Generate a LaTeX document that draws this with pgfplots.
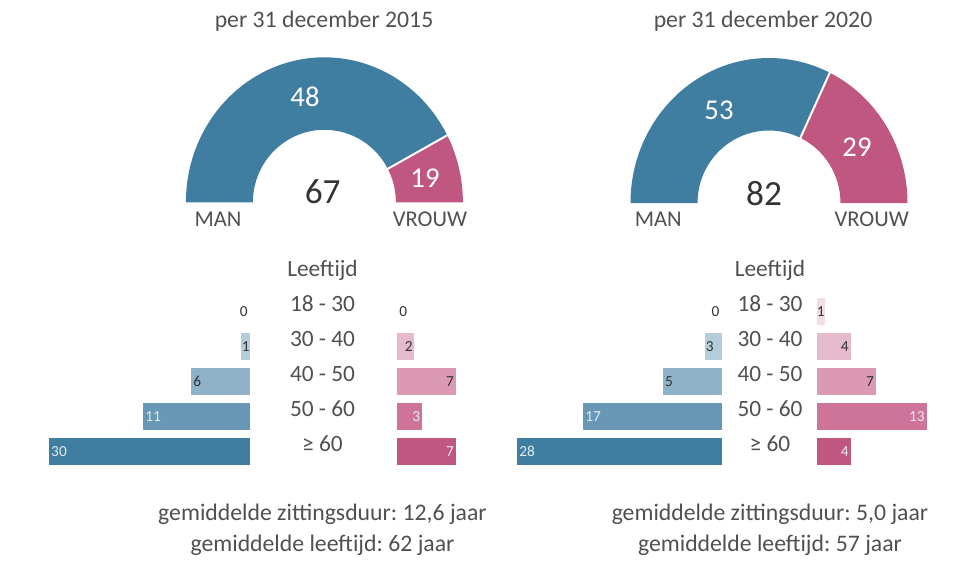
\documentclass[border=0pt]{standalone}
\usepackage{pgfplots}
\pgfplotsset{compat=1.18}
\usepackage{fontspec}
\setmainfont{Carlito}
\frenchspacing
\definecolor{manblue}{HTML}{3F7EA1}
\definecolor{m4}{HTML}{6898B5}
\definecolor{m3}{HTML}{8FB2C8}
\definecolor{m2}{HTML}{B4CDDB}
\definecolor{w5}{HTML}{C05780}
\definecolor{w4}{HTML}{CE7499}
\definecolor{w3}{HTML}{DB99B4}
\definecolor{w2}{HTML}{E6BACD}
\definecolor{w1}{HTML}{F2DCE6}
\definecolor{txt}{HTML}{505050}
\definecolor{dark}{HTML}{333333}
\definecolor{lightlbl}{HTML}{E4ECF1}
\pgfplotsset{
  barax/.style={anchor=origin, x=6.3375pt, y=26.25pt, y dir=reverse,
    xmin=0, xmax=26, ymin=-0.5, ymax=4.5, hide axis, clip=false,
    every axis plot/.append style={xbar, bar width=0.7714, bar shift=0pt, draw=none}},
}
\tikzset{lbl/.style={font=\fontsize{11.5}{13}\selectfont, inner sep=1.5pt}}
\begin{document}
\begin{tikzpicture}
\path[use as bounding box] (0,0) rectangle (726pt,-421.5pt);
% ---------- canvas axis: donuts and texts ----------
\begin{axis}[at={(0,0)}, anchor=origin, x=0.75pt, y=0.75pt, y dir=reverse,
  xmin=0, xmax=968, ymin=0, ymax=562, hide axis, clip=false]
% donut 2015 (MAN 48, VROUW 19)
\fill[manblue] (axis cs:185.9,202.3) arc[start angle=180,end angle=27.5,x radius=103.875pt,y radius=108.75pt]
  -- (axis cs:387.8,168.8) arc[start angle=27.5,end angle=180,x radius=53.625pt,y radius=54.375pt] -- cycle;
\fill[w5] (axis cs:462.9,202.3) arc[start angle=0,end angle=27.5,x radius=103.875pt,y radius=108.75pt]
  -- (axis cs:387.8,168.8) arc[start angle=27.5,end angle=0,x radius=53.625pt,y radius=54.375pt] -- cycle;
\draw[white, line width=1.5pt] (axis cs:386,169.8) -- (axis cs:449,134.3);
% donut 2020 (MAN 53, VROUW 29)
\fill[manblue] (axis cs:630.5,203) arc[start angle=180,end angle=64,x radius=103.875pt,y radius=108.75pt]
  -- (axis cs:800.35,137.84) arc[start angle=64,end angle=180,x radius=53.625pt,y radius=54.375pt] -- cycle;
\fill[w5] (axis cs:907.5,203) arc[start angle=0,end angle=64,x radius=103.875pt,y radius=108.75pt]
  -- (axis cs:800.35,137.84) arc[start angle=64,end angle=0,x radius=53.625pt,y radius=54.375pt] -- cycle;
\draw[white, line width=1.5pt] (axis cs:799.5,139.8) -- (axis cs:830.6,70.8);
% titles
\node[anchor=base, text=txt, font=\fontsize{17.8}{20}\selectfont] at (axis cs:324,27) {per 31 december 2015};
\node[anchor=base, text=txt, font=\fontsize{17.8}{20}\selectfont] at (axis cs:763,27) {per 31 december 2020};
% donut numbers
\node[anchor=base, text=white, font=\fontsize{21.5}{24}\selectfont] at (axis cs:305,106.7) {48};
\node[anchor=base, text=white, font=\fontsize{21.5}{24}\selectfont] at (axis cs:425,187.7) {19};
\node[anchor=base, text=dark, font=\fontsize{26.5}{30}\selectfont] at (axis cs:322.7,203.3) {67};
\node[anchor=base, text=white, font=\fontsize{21.5}{24}\selectfont] at (axis cs:719,119) {53};
\node[anchor=base, text=white, font=\fontsize{21.5}{24}\selectfont] at (axis cs:857,156) {29};
\node[anchor=base, text=dark, font=\fontsize{26.5}{30}\selectfont] at (axis cs:764,205.7) {82};
\node[anchor=base, text=txt, font=\fontsize{16.9}{20}\selectfont] at (axis cs:218,226.7) {MAN};
\node[anchor=base, text=txt, font=\fontsize{16.9}{20}\selectfont] at (axis cs:430,226.7) {VROUW};
\node[anchor=base, text=txt, font=\fontsize{16.9}{20}\selectfont] at (axis cs:658.3,226.7) {MAN};
\node[anchor=base, text=txt, font=\fontsize{16.9}{20}\selectfont] at (axis cs:871.7,226.7) {VROUW};
% age labels
\pgfplotsinvokeforeach{322.5,770}{
  \node[anchor=base, text=txt, font=\fontsize{17.5}{20}\selectfont] at (axis cs:#1,276.7) {Leeftijd};
  \node[anchor=base, text=txt, font=\fontsize{17.5}{20}\selectfont] at (axis cs:#1,311.7) {18 - 30};
  \node[anchor=base, text=txt, font=\fontsize{17.5}{20}\selectfont] at (axis cs:#1,346.7) {30 - 40};
  \node[anchor=base, text=txt, font=\fontsize{17.5}{20}\selectfont] at (axis cs:#1,381.7) {40 - 50};
  \node[anchor=base, text=txt, font=\fontsize{17.5}{20}\selectfont] at (axis cs:#1,416.7) {50 - 60};
  \node[anchor=base, text=txt, font=\fontsize{17.5}{20}\selectfont] at (axis cs:#1,451.2) {≥ 60};
}
% bottom texts
\node[anchor=base, text=txt, font=\fontsize{17.8}{20}\selectfont] at (axis cs:322.5,520) {gemiddelde zittingsduur: 12,6 jaar};
\node[anchor=base, text=txt, font=\fontsize{17.8}{20}\selectfont] at (axis cs:322.5,551.7) {gemiddelde leeftijd: 62 jaar};
\node[anchor=base, text=txt, font=\fontsize{17.8}{20}\selectfont] at (axis cs:770,520) {gemiddelde zittingsduur: 5,0 jaar};
\node[anchor=base, text=txt, font=\fontsize{17.8}{20}\selectfont] at (axis cs:770,551.7) {gemiddelde leeftijd: 57 jaar};
\end{axis}
% ---------- MAN 2015 ----------
\begin{axis}[barax, x dir=reverse, at={(187.5pt,-233.775pt)}]
\addplot[fill=m2] coordinates {(1.07,1)};
\addplot[fill=m3] coordinates {(6.98,2)};
\addplot[fill=m4] coordinates {(12.66,3)};
\addplot[fill=manblue] coordinates {(23.79,4)};
\node[lbl, anchor=east, text=dark] at (axis cs:0,0) {0};
\node[lbl, anchor=west, inner sep=0.5pt, text=dark] at (axis cs:1.07,1) {1};
\node[lbl, anchor=west, text=dark] at (axis cs:6.98,2) {6};
\node[lbl, anchor=west, text=lightlbl] at (axis cs:12.66,3) {11};
\node[lbl, anchor=west, text=lightlbl] at (axis cs:23.79,4) {30};
\end{axis}
% ---------- VROUW 2015 ----------
\begin{axis}[barax, at={(297.75pt,-233.775pt)}]
\addplot[fill=w2] coordinates {(2,1)};
\addplot[fill=w3] coordinates {(7,2)};
\addplot[fill=w4] coordinates {(3,3)};
\addplot[fill=w5] coordinates {(7,4)};
\node[lbl, anchor=west, text=dark] at (axis cs:0,0) {0};
\node[lbl, anchor=east, inner sep=0.8pt, text=dark] at (axis cs:2,1) {2};
\node[lbl, anchor=east, text=dark] at (axis cs:7,2) {7};
\node[lbl, anchor=east, text=lightlbl] at (axis cs:3,3) {3};
\node[lbl, anchor=east, text=lightlbl] at (axis cs:7,4) {7};
\end{axis}
% ---------- MAN 2020 ----------
\begin{axis}[barax, x dir=reverse, at={(541.275pt,-233.775pt)}]
\addplot[fill=m2] coordinates {(1.98,1)};
\addplot[fill=m3] coordinates {(6.95,2)};
\addplot[fill=m4] coordinates {(16.41,3)};
\addplot[fill=manblue] coordinates {(24.22,4)};
\node[lbl, anchor=east, text=dark] at (axis cs:0,0) {0};
\node[lbl, anchor=west, inner sep=0.5pt, text=dark] at (axis cs:1.98,1) {3};
\node[lbl, anchor=west, text=dark] at (axis cs:6.95,2) {5};
\node[lbl, anchor=west, text=lightlbl] at (axis cs:16.41,3) {17};
\node[lbl, anchor=west, text=lightlbl] at (axis cs:24.22,4) {28};
\end{axis}
% ---------- VROUW 2020 ----------
\begin{axis}[barax, at={(612.75pt,-233.775pt)}]
\addplot[fill=w1] coordinates {(1,0)};
\addplot[fill=w2] coordinates {(4,1)};
\addplot[fill=w3] coordinates {(7,2)};
\addplot[fill=w4] coordinates {(13,3)};
\addplot[fill=w5] coordinates {(4,4)};
\node[lbl, anchor=east, inner sep=0.5pt, text=dark] at (axis cs:1,0) {1};
\node[lbl, anchor=east, text=dark] at (axis cs:4,1) {4};
\node[lbl, anchor=east, text=dark] at (axis cs:7,2) {7};
\node[lbl, anchor=east, text=lightlbl] at (axis cs:13,3) {13};
\node[lbl, anchor=east, text=lightlbl] at (axis cs:4,4) {4};
\end{axis}
\end{tikzpicture}
\end{document}
